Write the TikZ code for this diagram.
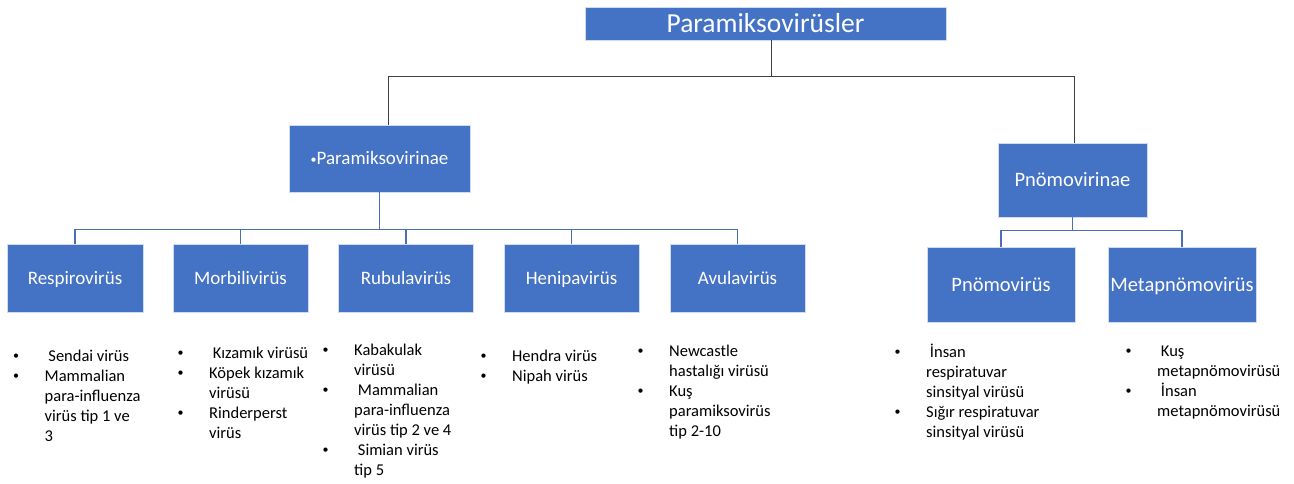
\documentclass[tikz,border=0pt]{standalone}
\usepackage{fontspec}
\setmainfont{Carlito}
\definecolor{boxblue}{HTML}{4472C4}
\definecolor{linkblue}{HTML}{4A6FB5}
\definecolor{rootgray}{HTML}{404040}
% bullet list under a genus box
\newcommand{\vlist}[1]{{\fontsize{16.5}{20}\selectfont
  \begin{tabular}{@{}p{31.5pt}@{}l@{}}#1\end{tabular}}}
\newcommand{\bul}{\raisebox{1.5pt}{\fontsize{12}{12}\selectfont\textbullet}}
\begin{document}
\begin{tikzpicture}[x=1pt,y=-1pt]
        \useasboundingbox (0,0) rectangle (1294,483);

        \begin{scope}[every node/.style={fill=boxblue, draw=white!75!boxblue, text=white,
            inner sep=0pt, text height=12.2pt, text depth=0pt, font=\fontsize{19}{23}\selectfont}]
          \node[minimum width=361pt, minimum height=33pt, text height=17.7pt,
                font=\fontsize{27.5}{32}\selectfont]
                (root) at (765.5,23.5) {Paramiksovirüsler};
          \node[minimum width=181pt, minimum height=67pt] (parami) at (379.5,158.5)
                {\raisebox{1.5pt}{\fontsize{12}{12}\selectfont\textbullet}Paramiksovirinae};
          \node[minimum width=149pt, minimum height=74pt, text height=13.2pt,
                font=\fontsize{20.5}{24}\selectfont]
                (pnomo) at (1072.5,180) {Pnömovirinae};
          % genera
          \node[minimum width=136pt, minimum height=68pt] (respiro) at (75,278)    {Respirovirüs};
          \node[minimum width=135pt, minimum height=68pt] (morbili) at (240.5,278) {Morbilivirüs};
          \node[minimum width=135pt, minimum height=68pt] (rubula)  at (406,278)   {Rubulavirüs};
          \node[minimum width=135pt, minimum height=68pt] (henipa)  at (571.5,278) {Henipavirüs};
          \node[minimum width=135pt, minimum height=68pt] (avula)   at (737.5,278) {Avulavirüs};
          \node[minimum width=148pt, minimum height=75pt, text height=13.2pt,
                font=\fontsize{20.5}{24}\selectfont]
                (pnomovir)  at (1001,284.5) {Pnömovirüs};
          \node[minimum width=148pt, minimum height=75pt, text height=13.2pt,
                font=\fontsize{20.5}{24}\selectfont]
                (metapnomo) at (1182,284.5) {Metapnömovirüs};
        \end{scope}

        \begin{scope}[every path/.style={draw=rootgray, line width=0.8pt}]
          \draw ([xshift=5.5pt]root.south) -- ++(0,36) -| ([xshift=8.5pt]parami.north);
          \draw ([xshift=5.5pt]root.south) -- ++(0,36) -| ([xshift=1.5pt]pnomo.north);
        \end{scope}

        \begin{scope}[every path/.style={draw=linkblue, line width=1.3pt}]
          \foreach \g in {respiro,morbili,rubula,henipa,avula}
            \draw (parami.south) -- ++(0,37) -| (\g.north);
          \foreach \g in {pnomovir,metapnomo}
            \draw (pnomo.south) -- ++(0,13) -| (\g.north);
        \end{scope}

        \begin{scope}[every node/.style={anchor=north west, inner sep=0pt, align=left}]
          \node (respirolist) at (13,347) {\vlist{\bul & \ Sendai virüs\\
              \bul & Mammalian\\ & para-influenza\\ & virüs tip 1 ve\\ & 3}};
          \node (morbililist) at (177.5,344) {\vlist{\bul & \ Kızamık virüsü\\
              \bul & Köpek kızamık\\ & virüsü\\ \bul & Rinderperst\\ & virüs}};
          \node (rubulalist) at (322.5,341) {\vlist{\bul & Kabakulak\\ & virüsü\\
              \bul & \ Mammalian\\ & para-influenza\\ & virüs tip 2 ve 4\\
              \bul & \ Simian virüs\\ & tip 5}};
          \node (henipalist) at (480.5,347) {\vlist{\bul & Hendra virüs\\ \bul & Nipah virüs}};
          \node (avulalist) at (637.5,342) {\vlist{\bul & Newcastle\\ & hastalığı virüsü\\
              \bul & Kuş\\ & paramiksovirüs\\ & tip 2-10}};
          \node (pnomovirlist) at (894.5,343) {\vlist{\bul & \ İnsan\\ & respiratuvar\\
              & sinsityal virüsü\\ \bul & Sığır respiratuvar\\ & sinsityal virüsü}};
          \node (metapnomolist) at (1125.5,342) {\vlist{\bul & \ Kuş\\ & metapnömovirüsü\\
              \bul & \ İnsan\\ & metapnömovirüsü}};
        \end{scope}

      \end{tikzpicture}
\end{document}
